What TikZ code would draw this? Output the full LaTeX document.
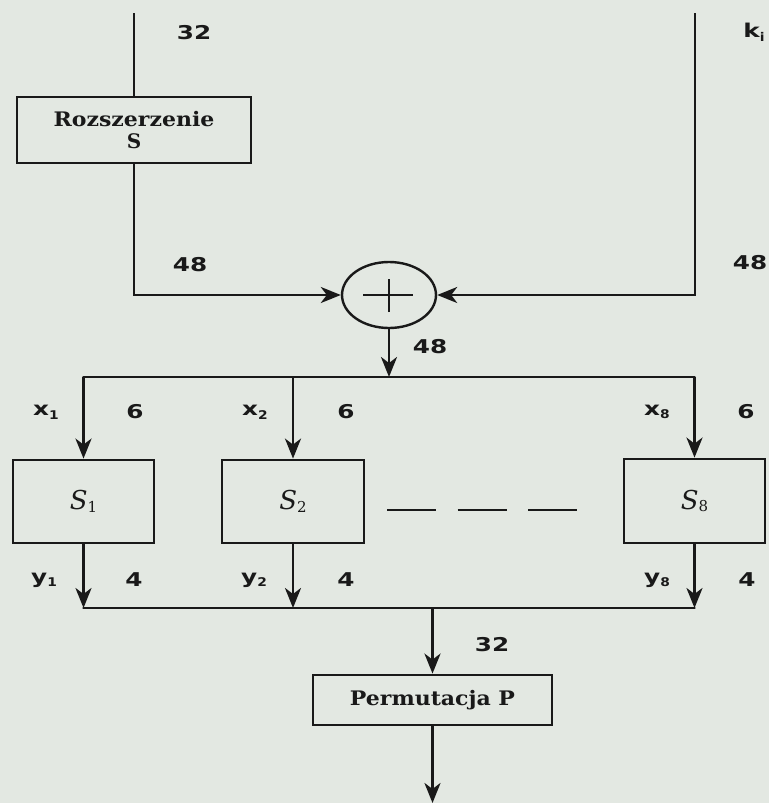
\documentclass[tikz,border=0pt]{standalone}
\usepackage{fontspec}
\usetikzlibrary{arrows.meta,shapes.geometric}
\newfontfamily\lblfont{DejaVu Sans}
\newfontfamily\boxfont{DejaVu Serif}
\definecolor{bgc}{RGB}{227,232,226}
\definecolor{ink}{RGB}{25,25,25}
\newcommand\lsub[1]{\raisebox{-0.35ex}{\fontsize{12}{12}\selectfont\scalebox{1.15}[1]{#1}}}
\newcommand\ssub[1]{\raisebox{-0.2ex}{\fontsize{15}{15}\selectfont #1}}
\newcommand\wide[1]{\scalebox{1.3}[1]{#1}}
\begin{document}
\begin{tikzpicture}[x=1pt,y=-1pt,
  conn/.style={draw=ink,line width=2.8pt},
  arr/.style={conn,-{Stealth[length=20pt,width=16pt,inset=6pt]}},
  blk/.style={draw=ink,line width=2.8pt,rectangle,inner sep=0pt},
  lbl/.style={font=\lblfont\bfseries\fontsize{19}{21}\selectfont,text=ink,inner sep=0pt},
  btxt/.style={font=\boxfont\bfseries\fontsize{20}{24}\selectfont,text=ink,align=center},
  stxt/.style={font=\boxfont\itshape\fontsize{26}{26}\selectfont,text=ink}]
\useasboundingbox (0,0) rectangle (769,803);
\fill[bgc] (0,0) rectangle (769,803);

% blocks
\node[blk,minimum width=234pt,minimum height=66pt,btxt] (rozs) at (134,130)
  {\scalebox{1.1}[1]{Rozszerzenie}\\[-2pt]S};
\node[draw=ink,line width=2.4pt,ellipse,minimum width=94pt,minimum height=66pt,inner sep=0pt] (xor) at (389,295) {};
\node[blk,minimum width=141pt,minimum height=83pt,stxt] (s1) at (83.5,501.5) {S\ssub{\upshape 1}};
\node[blk,minimum width=142pt,minimum height=83pt,stxt] (s2) at (293,501.5) {S\ssub{\upshape 2}};
\node[blk,minimum width=141pt,minimum height=84pt,stxt] (s8) at (694.5,501) {S\ssub{\upshape 8}};
\node[blk,minimum width=239pt,minimum height=50pt,btxt] (perm) at (432.5,700) {\scalebox{1.1}[1]{Permutacja P}};

% plus sign in xor
\draw[ink,line width=2pt] ([xshift=-26pt]xor.center) -- ([xshift=24pt]xor.center);
\draw[ink,line width=2pt] ([yshift=-17pt]xor.center) -- ([yshift=16pt]xor.center);

% coordinates
\coordinate (tl) at (134,13);
\coordinate (tr) at (695,13);
\coordinate (xb) at (389,377);
\coordinate (bl) at (83.5,377);
\coordinate (b2) at (293,377);
\coordinate (br) at (694.5,377);
\coordinate (ol) at (83.5,608);
\coordinate (o2) at (293,608);
\coordinate (or) at (694.5,608);
\coordinate (om) at (432.5,608);
\coordinate (out) at (432.5,803);
\coordinate (dl) at (387,510);
\coordinate (dr) at (577,510);

% connectors
\draw[conn] (tl) -- (rozs.north);
\draw[arr] (rozs.south) |- (xor.west);
\draw[arr] (tr) |- (xor.east);
\draw[arr] (xor.south) -- (xb);
\draw[conn,line cap=round] (bl) -- (br);
\draw[arr] (bl) -- (s1.north);
\draw[arr] (b2) -- (s2.north);
\draw[arr] (br) -- (s8.north);
\draw[arr] (s1.south) -- (ol);
\draw[arr] (s2.south) -- (o2);
\draw[arr] (s8.south) -- (or);
\draw[conn,line cap=round] (ol) -- (or);
\draw[arr] (om) -- (perm.north);
\draw[arr] (perm.south) -- (out);
\draw[ink,line width=2.2pt,dash pattern=on 49pt off 21.5pt] (dl) -- (dr);

% labels
\node[lbl] (l32a) at (194,33) {\wide{32}};
\node[lbl] (l48a) at (190,265) {\wide{48}};
\node[lbl] (lki) at (754,32) {\wide{k}\lsub{i}};
\node[lbl] (l48b) at (750,263) {\wide{48}};
\node[lbl] (l48c) at (430,347) {\wide{48}};
\node[lbl] (lx1) at (46,412) {\wide{x}\lsub{1}};
\node[lbl] (l6a) at (135,412) {\wide{6}};
\node[lbl] (lx2) at (255,412) {\wide{x}\lsub{2}};
\node[lbl] (l6b) at (346,412) {\wide{6}};
\node[lbl] (lx8) at (657,412) {\wide{x}\lsub{8}};
\node[lbl] (l6c) at (746,412) {\wide{6}};
\node[lbl] (ly1) at (44,580) {\wide{y}\lsub{1}};
\node[lbl] (l4a) at (134,580) {\wide{4}};
\node[lbl] (ly2) at (254,580) {\wide{y}\lsub{2}};
\node[lbl] (l4b) at (346,580) {\wide{4}};
\node[lbl] (ly8) at (657,580) {\wide{y}\lsub{8}};
\node[lbl] (l4c) at (747,580) {\wide{4}};
\node[lbl] (l32b) at (492,645) {\wide{32}};
\end{tikzpicture}
\end{document}
